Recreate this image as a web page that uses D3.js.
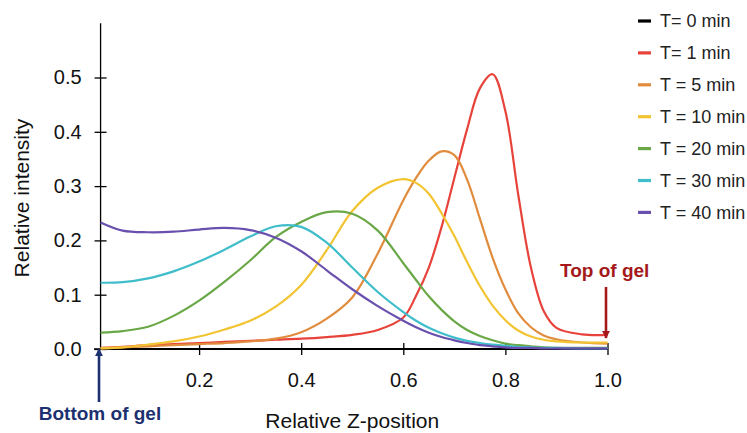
<!DOCTYPE html>
<html>
<head>
<meta charset="utf-8">
<script src="https://cdn.jsdelivr.net/npm/d3@7"></script>
<style>
  body { margin: 0; background: #fff; }
  svg { font-family: "Liberation Sans", Arial, sans-serif; }
</style>
</head>
<body>
<svg width="747" height="433"></svg>
<script>
// relative z positions (shared sample points)
var zpos = [0.007, 0.05, 0.1, 0.15, 0.2, 0.25, 0.3, 0.35, 0.4, 0.45, 0.5, 0.55, 0.6, 0.625,
  0.65, 0.675, 0.7, 0.725, 0.75, 0.775, 0.8, 0.825, 0.85, 0.875, 0.9, 0.95, 1.0];

var t0 = [0, 0, 0, 0, 0, 0, 0, 0, 0, 0, 0, 0, 0, 0, 0, 0, 0, 0, 0, 0, 0, 0, 0, 0, 0, 0, 0];
var t1 = [0.002, 0.004, 0.007, 0.009, 0.011, 0.013, 0.015, 0.017, 0.019, 0.022, 0.026, 0.035, 0.058, 0.098,
  0.150, 0.225, 0.315, 0.405, 0.480, 0.506, 0.438, 0.285, 0.150, 0.070, 0.039, 0.027, 0.026];
var t5 = [0.001, 0.003, 0.005, 0.007, 0.009, 0.011, 0.014, 0.019, 0.031, 0.056, 0.095, 0.176, 0.274, 0.315,
  0.347, 0.364, 0.357, 0.312, 0.240, 0.168, 0.110, 0.066, 0.040, 0.025, 0.018, 0.012, 0.010];
var t10 = [0.001, 0.003, 0.008, 0.014, 0.023, 0.036, 0.052, 0.078, 0.118, 0.182, 0.254, 0.297, 0.313, 0.306,
  0.286, 0.250, 0.208, 0.160, 0.116, 0.080, 0.053, 0.034, 0.023, 0.017, 0.014, 0.012, 0.012];
var t20 = [0.030, 0.033, 0.041, 0.061, 0.089, 0.124, 0.163, 0.206, 0.234, 0.252, 0.249, 0.218, 0.158, 0.127,
  0.097, 0.072, 0.051, 0.035, 0.024, 0.016, 0.010, 0.007, 0.005, 0.003, 0.002, 0.002, 0.002];
var t30 = [0.122, 0.123, 0.130, 0.143, 0.161, 0.183, 0.207, 0.226, 0.225, 0.196, 0.150, 0.105, 0.068, 0.052,
  0.039, 0.029, 0.021, 0.015, 0.011, 0.008, 0.006, 0.004, 0.003, 0.002, 0.002, 0.001, 0.001];
var t40 = [0.233, 0.218, 0.215, 0.216, 0.220, 0.223, 0.219, 0.205, 0.180, 0.145, 0.110, 0.079, 0.052, 0.040,
  0.030, 0.022, 0.016, 0.011, 0.007, 0.005, 0.003, 0.002, 0.002, 0.001, 0.001, 0.001, 0.001];

var labels = ["T= 0 min", "T= 1 min", "T = 5 min", "T = 10 min", "T = 20 min", "T = 30 min", "T = 40 min"];
var colors = ["#000000", "#e8433b", "#e18c3d", "#f2c431", "#6aa847", "#3fbdca", "#6a50ae"];
var seriesVals = [t0, t1, t5, t10, t20, t30, t40];

var xTicks = [0.2, 0.4, 0.6, 0.8, 1.0];
var yTicks = [0, 0.1, 0.2, 0.3, 0.4, 0.5];

var svg = d3.select("svg");

var x = d3.scaleLinear().domain([0, 1]).range([97, 607.5]);
var y = d3.scaleLinear().domain([0, 0.6]).range([349, 23.2]);

var axisX = x(zpos[0]);

// series lines
var line = d3.line()
  .x(function(d) { return x(d[0]); })
  .y(function(d) { return y(d[1]); })
  .curve(d3.curveCatmullRom.alpha(0.5));

// x axis
var gx = svg.append("g").attr("transform", "translate(0," + y(0) + ")")
  .call(d3.axisBottom(x).tickValues(xTicks).tickFormat(d3.format(".1f")).tickSize(6).tickPadding(18));
gx.select(".domain").remove();
gx.selectAll(".tick line").attr("y1", -6).attr("y2", 6).attr("stroke-width", 1.3);
gx.selectAll(".tick text").attr("font-size", 20).attr("font-family", "Liberation Sans, Arial, sans-serif").attr("fill", "#111");
gx.append("line").attr("x1", 94).attr("x2", x(1)).attr("stroke", "#000").attr("stroke-width", 1.6);

// y axis
var gy = svg.append("g").attr("transform", "translate(" + axisX + ",0)")
  .call(d3.axisLeft(y).tickValues(yTicks).tickFormat(d3.format(".1f")).tickSize(6).tickPadding(13));
gy.select(".domain").remove();
gy.selectAll(".tick line").attr("x1", -6).attr("x2", 6).attr("stroke-width", 1.3);
gy.selectAll(".tick text").attr("font-size", 20).attr("font-family", "Liberation Sans, Arial, sans-serif").attr("fill", "#111");
gy.append("line").attr("y1", y(0.6)).attr("y2", y(0)).attr("stroke", "#000").attr("stroke-width", 1.3);

seriesVals.forEach(function(vals, i) {
  var pts = zpos.map(function(z, j) { return [z, vals[j]]; });
  svg.append("path")
    .datum(pts)
    .attr("d", line)
    .attr("fill", "none")
    .attr("stroke", colors[i])
    .attr("stroke-width", i == 0 ? 2 : 2.2);
});

// axis titles
svg.append("text")
  .attr("x", (x(0) + x(1)) / 2).attr("y", 428)
  .attr("text-anchor", "middle").attr("font-size", 21).attr("fill", "#111")
  .text("Relative Z-position");
svg.append("text")
  .attr("transform", "translate(29," + 198 + ") rotate(-90)")
  .attr("text-anchor", "middle").attr("font-size", 21).attr("fill", "#111")
  .text("Relative intensity");

// markers for gel ends
var defs = svg.append("defs");
function marker(id, col) {
  defs.append("marker").attr("id", id).attr("viewBox", "0 0 10 10")
    .attr("refX", 9).attr("refY", 5).attr("markerWidth", 3.2).attr("markerHeight", 3.2)
    .attr("orient", "auto")
    .append("path").attr("d", "M0,0L10,5L0,10z").attr("fill", col);
}
marker("ab", "#1d3170");
marker("ar", "#a5191b");

svg.append("line").attr("x1", 99).attr("x2", 99).attr("y1", 402).attr("y2", 349)
  .attr("stroke", "#1d3170").attr("stroke-width", 2.6).attr("marker-end", "url(#ab)");
svg.append("text").attr("x", 100).attr("y", 420).attr("text-anchor", "middle")
  .attr("font-size", 19).attr("font-weight", "bold").attr("fill", "#1d3170").text("Bottom of gel");

svg.append("line").attr("x1", 606).attr("x2", 606).attr("y1", 287).attr("y2", 338)
  .attr("stroke", "#a5191b").attr("stroke-width", 2.6).attr("marker-end", "url(#ar)");
svg.append("text").attr("x", 560).attr("y", 277)
  .attr("font-size", 19).attr("font-weight", "bold").attr("fill", "#a5191b").text("Top of gel");

// legend
var leg = svg.append("g");
labels.forEach(function(lab, i) {
  var ly = 21 + i * 31.9;
  leg.append("line").attr("x1", 638).attr("x2", 651).attr("y1", ly).attr("y2", ly)
    .attr("stroke", colors[i]).attr("stroke-width", 3.2);
  leg.append("text").attr("x", 660).attr("y", ly).attr("dy", "0.35em")
    .attr("font-size", 18).attr("fill", "#222").text(lab);
});
</script>
</body>
</html>
